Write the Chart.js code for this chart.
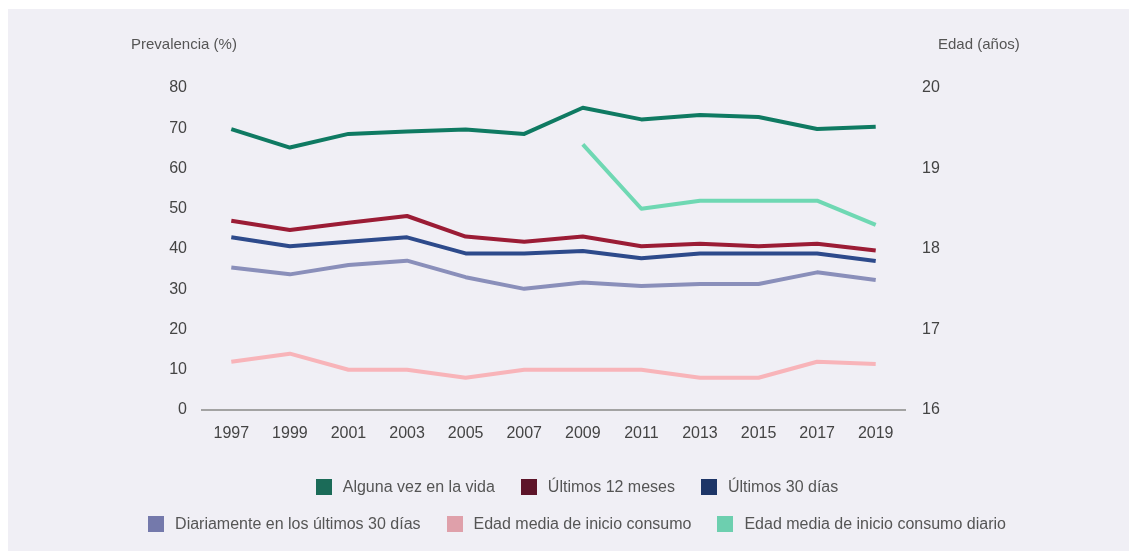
<!DOCTYPE html>
<html lang="es">
<head>
<meta charset="utf-8">
<title>Prevalencia y edad media de inicio</title>
<script src="https://cdn.jsdelivr.net/npm/chart.js@4.4.1/dist/chart.umd.min.js"></script>
<style>
    body { margin: 0; background: #ffffff; overflow: hidden; font-family: "Liberation Sans", Arial, sans-serif; }
    #panel { position: absolute; left: 8px; top: 9px; right: 0; bottom: 0; background: #f0eff5; }
    #wrap { position: absolute; left: 0; top: 0; width: 1129px; height: 551px; }
    #legend { position: absolute; left: 0; top: 468px; width: 1154px; font-size: 16px; color: #555; }
    .row { display: flex; justify-content: center; gap: 26px; height: 37px; align-items: center; }
    .item { display: flex; align-items: center; white-space: nowrap; }
    .box { width: 16px; height: 16px; margin-right: 11px; }
</style>
</head>
<body>
<div id="panel"></div>
<div id="wrap"><canvas id="chart"></canvas></div>
<div id="legend"></div>

<script>
// Datos
const years = ['1997', '1999', '2001', '2003', '2005', '2007', '2009', '2011', '2013', '2015', '2017', '2019'];

const algunaVez   = [69.8, 65.2, 68.6, 69.2, 69.7, 68.6, 75.1, 72.2, 73.3, 72.8, 69.8, 70.4];
const ultimos12   = [47.0, 44.7, 46.5, 48.2, 43.1, 41.8, 43.1, 40.7, 41.3, 40.7, 41.3, 39.6];
const ultimos30   = [42.9, 40.7, 41.8, 42.9, 38.9, 38.9, 39.5, 37.7, 38.9, 38.9, 38.9, 37.0];
const diariamente = [35.4, 33.7, 36.0, 37.1, 33.0, 30.1, 31.7, 30.8, 31.3, 31.3, 34.2, 32.3];
// edades (eje derecho)
const edadInicio       = [16.6, 16.7, 16.5, 16.5, 16.4, 16.5, 16.5, 16.5, 16.4, 16.4, 16.6, 16.57];
const edadInicioDiario = [null, null, null, null, null, null, 19.3, 18.5, 18.6, 18.6, 18.6, 18.3];

const seriesNames = [
    'Alguna vez en la vida',
    'Últimos 12 meses',
    'Últimos 30 días',
    'Diariamente en los últimos 30 días',
    'Edad media de inicio consumo',
    'Edad media de inicio consumo diario'
];
const lineColors   = ['#0f7a62', '#9b1c35', '#2d4a8b', '#8a8fba', '#f8b4b9', '#6fd8b3'];
const legendColors = ['#1b6b58', '#5d1429', '#1d3567', '#7479ab', '#dfa0aa', '#6dcfaf'];

const leftTitle = 'Prevalencia (%)';
const rightTitle = 'Edad (años)';

const allData = [algunaVez, ultimos12, ultimos30, diariamente, edadInicio, edadInicioDiario];
const axisOf  = ['y', 'y', 'y', 'y', 'y1', 'y1'];

// títulos horizontales encima de los ejes
const axisTitles = {
    id: 'axisTitles',
    afterDraw(chart) {
        const { ctx, chartArea } = chart;
        ctx.save();
        ctx.font = '15px "Liberation Sans", Arial, sans-serif';
        ctx.fillStyle = '#555';
        ctx.textBaseline = 'middle';
        ctx.textAlign = 'left';
        ctx.fillText(leftTitle, chartArea.left - 71, 45);
        ctx.fillText(rightTitle, chartArea.right + 33, 45);
        ctx.restore();
    }
};

const datasets = allData.map((d, i) => ({
    label: seriesNames[i],
    data: d,
    yAxisID: axisOf[i],
    borderColor: lineColors[i],
    backgroundColor: lineColors[i],
    borderWidth: 4,
    borderJoinStyle: 'round',
    pointRadius: 0,
    tension: 0,
    fill: false
}));

const tickFont = { family: '"Liberation Sans", Arial, sans-serif', size: 16 };

new Chart(document.getElementById('chart'), {
    type: 'line',
    data: { labels: years, datasets: datasets },
    options: {
        responsive: true,
        maintainAspectRatio: false,
        animation: false,
        layout: { padding: { top: 88, left: 0, right: 0, bottom: 0 } },
        plugins: {
            legend: { display: false },
            title: { display: false },
            tooltip: { enabled: false }
        },
        scales: {
            x: {
                offset: true,
                grid: { display: false, drawTicks: false },
                border: { display: true, color: '#a3a3a3', width: 2 },
                ticks: { color: '#444', font: tickFont, padding: 14, maxRotation: 0 },
                afterFit(scale) { scale.height = 141; }
            },
            y: {
                position: 'left',
                min: 0,
                max: 80,
                grid: { display: false, drawTicks: false },
                border: { display: false },
                ticks: { stepSize: 10, color: '#444', font: tickFont, padding: 15 },
                afterFit(scale) { scale.width = 202; }
            },
            y1: {
                position: 'right',
                min: 16,
                max: 20,
                grid: { display: false, drawTicks: false },
                border: { display: false },
                ticks: { stepSize: 1, color: '#444', font: tickFont, padding: 17 },
                afterFit(scale) { scale.width = 224; }
            }
        }
    },
    plugins: [axisTitles]
});

// leyenda en dos filas, como en el original
const legendRows = [[0, 1, 2], [3, 4, 5]];
const legendEl = document.getElementById('legend');
legendRows.forEach(row => {
    const r = document.createElement('div');
    r.className = 'row';
    row.forEach(i => {
        const item = document.createElement('div');
        item.className = 'item';
        const box = document.createElement('span');
        box.className = 'box';
        box.style.background = legendColors[i];
        const txt = document.createElement('span');
        txt.textContent = seriesNames[i];
        item.appendChild(box);
        item.appendChild(txt);
        r.appendChild(item);
    });
    legendEl.appendChild(r);
});
</script>
</body>
</html>
